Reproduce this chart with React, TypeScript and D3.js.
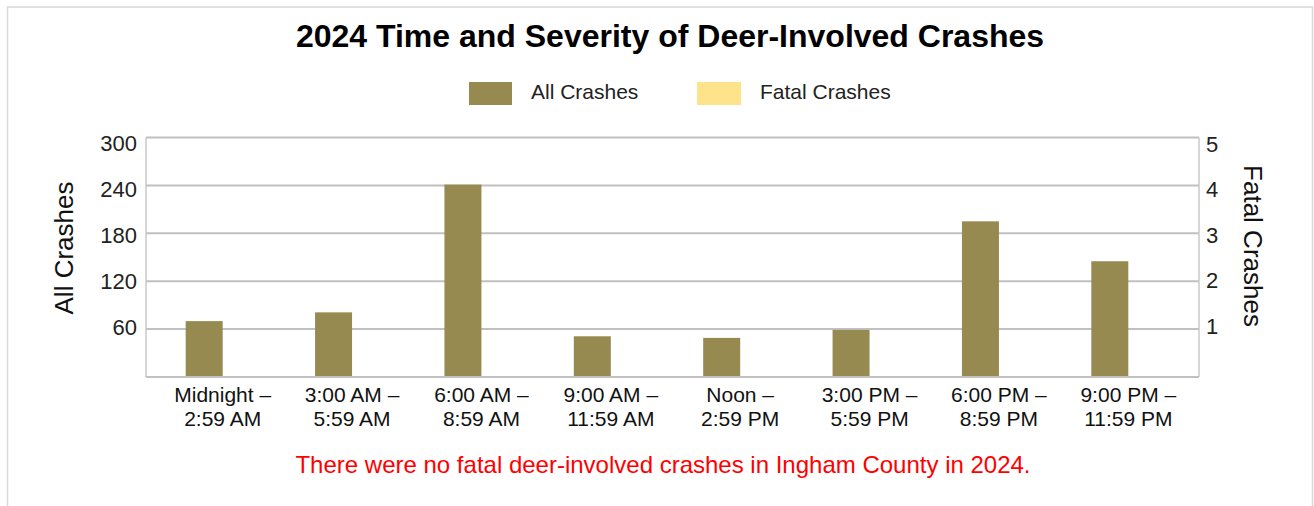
import React from "react";
import * as d3 from "d3";

const categories = [
  ["Midnight –", "2:59 AM"],
  ["3:00 AM –", "5:59 AM"],
  ["6:00 AM –", "8:59 AM"],
  ["9:00 AM –", "11:59 AM"],
  ["Noon –", "2:59 PM"],
  ["3:00 PM –", "5:59 PM"],
  ["6:00 PM –", "8:59 PM"],
  ["9:00 PM –", "11:59 PM"],
];
const seriesNames = ["All Crashes", "Fatal Crashes"];
const allCrashes = [70, 81, 241, 51, 49, 59, 195, 145];
const fatalCrashes = [0, 0, 0, 0, 0, 0, 0, 0];
const leftTicks = [60, 120, 180, 240, 300];
const rightTicks = [1, 2, 3, 4, 5];

const W = 1314;
const H = 506;
const FONT = "'Liberation Sans', Arial, Helvetica, sans-serif";
const COLORS = ["#978a51", "#ffe38a"];
const GRID = "#c0c0c0";

export default function App() {
  const plot = { left: 146, right: 1199, top: 137.5, bottom: 377 };
  const keys = categories.map((c) => c.join(" "));
  const x = d3.scaleBand<string>().domain(keys).range([158, 1193]).padding(0);
  const bw = x.bandwidth();
  const inner = d3
    .scaleBand<string>()
    .domain(seriesNames)
    .range([bw / 2 - 37, bw / 2 + 37])
    .padding(0);
  const y = d3.scaleLinear().domain([0, 300]).range([plot.bottom, plot.top]);
  const yR = d3.scaleLinear().domain([0, 5]).range([plot.bottom, plot.top]);
  // tick label placement (labels sit on a slightly tighter spacing than grid)
  const yLab = d3.scaleLinear().domain([0, 300]).range([372.5, 143.3]);
  const yRLab = d3.scaleLinear().domain([0, 5]).range([371, 144]);

  const series = [allCrashes, fatalCrashes.map((v) => yR.invert(yR(v)) * 60)];

  return (
    <div style={{ position: "fixed", left: 0, top: 0 }}>
      <svg width={W} height={H} style={{ display: "block", background: "#fff" }}>
        <rect x={7.5} y={7} width={1305} height={520} fill="#fff" stroke="#d9d9d9" strokeWidth={1.5} />
        <text x={670} y={47} textAnchor="middle" fontFamily={FONT} fontSize={32} fontWeight="bold" fill="#000">
          2024 Time and Severity of Deer-Involved Crashes
        </text>

        {/* legend */}
        <g fontFamily={FONT} fontSize={21} fill="#222">
          <rect x={469} y={82} width={43} height={23} fill={COLORS[0]} />
          <text x={531} y={99}>{seriesNames[0]}</text>
          <rect x={697} y={82} width={44} height={23} fill={COLORS[1]} />
          <text x={760} y={99}>{seriesNames[1]}</text>
        </g>

        {/* grid */}
        {leftTicks.map((t) => (
          <line key={t} x1={plot.left} x2={plot.right} y1={y(t)} y2={y(t)} stroke={GRID} strokeWidth={2} />
        ))}
        <line x1={plot.left} x2={plot.left} y1={plot.top} y2={plot.bottom} stroke="#c8c8c8" strokeWidth={1.5} />
        <line x1={plot.right} x2={plot.right} y1={plot.top} y2={plot.bottom} stroke="#c8c8c8" strokeWidth={1.5} />

        {/* bars */}
        {series.map((vals, si) =>
          vals.map((v, i) => (
            <rect
              key={si + "-" + i}
              x={(x(keys[i]) as number) + (inner(seriesNames[si]) as number)}
              y={y(v)}
              width={inner.bandwidth()}
              height={plot.bottom - y(v)}
              fill={COLORS[si]}
            />
          ))
        )}
        <line x1={plot.left} x2={plot.right} y1={plot.bottom} y2={plot.bottom} stroke={GRID} strokeWidth={2} />

        {/* left ticks */}
        <g fontFamily={FONT} fontSize={22} fill="#222" textAnchor="end">
          {leftTicks.map((t) => (
            <text key={t} x={137} y={yLab(t)} dy="0.36em">{t}</text>
          ))}
        </g>
        {/* right ticks */}
        <g fontFamily={FONT} fontSize={22} fill="#222" textAnchor="start">
          {rightTicks.map((t) => (
            <text key={t} x={1206} y={yRLab(t)} dy="0.36em">{t}</text>
          ))}
        </g>

        {/* x labels */}
        <g fontFamily={FONT} fontSize={21} fill="#111" textAnchor="middle">
          {categories.map((c, i) => (
            <text key={i} x={(x(keys[i]) as number) + bw / 2} y={402}>
              <tspan x={(x(keys[i]) as number) + bw / 2}>{c[0]}</tspan>
              <tspan x={(x(keys[i]) as number) + bw / 2} dy={24}>{c[1]}</tspan>
            </text>
          ))}
        </g>

        {/* axis titles */}
        <text
          transform="translate(72.5,248) rotate(-90)"
          textAnchor="middle"
          fontFamily={FONT}
          fontSize={26}
          fill="#111"
        >
          All Crashes
        </text>
        <text
          transform="translate(1244,246) rotate(90)"
          textAnchor="middle"
          fontFamily={FONT}
          fontSize={26}
          fill="#111"
        >
          Fatal Crashes
        </text>

        <text x={663} y={473} textAnchor="middle" fontFamily={FONT} fontSize={24} fill="#ff0000">
          There were no fatal deer-involved crashes in Ingham County in 2024.
        </text>
      </svg>
    </div>
  );
}
